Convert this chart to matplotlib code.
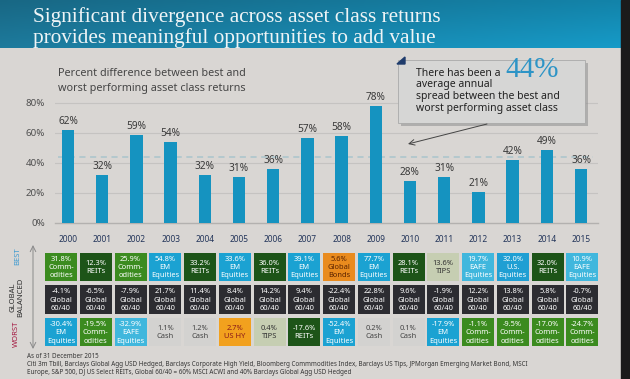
import numpy as np
import matplotlib
matplotlib.use("Agg")
import matplotlib.pyplot as plt
from matplotlib.patches import Rectangle, Polygon

# ---------------- data ----------------
years = [2000, 2001, 2002, 2003, 2004, 2005, 2006, 2007, 2008, 2009, 2010, 2011, 2012, 2013, 2014, 2015]
spread = [62, 32, 59, 54, 32, 31, 36, 57, 58, 78, 28, 31, 21, 42, 49, 36]
avg_spread = 44
y_ticks = [0, 20, 40, 60, 80]

best_ret = [31.8, 12.3, 25.9, 54.8, 33.2, 33.6, 36.0, 39.1, 5.6, 77.7, 28.1, 13.6, 19.7, 32.0, 32.0, 10.9]
best_cls = ["Commodities", "REITs", "Commodities", "EM Equities", "REITs", "EM Equities", "REITs",
            "EM Equities", "Global Bonds", "EM Equities", "REITs", "TIPS", "EAFE Equities",
            "U.S. Equities", "REITs", "EAFE Equities"]
bal_ret = [-4.1, -6.5, -7.9, 21.7, 11.4, 8.4, 14.2, 9.4, -22.4, 22.8, 9.6, -1.9, 12.2, 13.8, 5.8, -0.7]
bal_cls = ["Global 60/40"] * 16
worst_ret = [-30.4, -19.5, -32.9, 1.1, 1.2, 2.7, 0.4, -17.6, -52.4, 0.2, 0.1, -17.9, -1.1, -9.5, -17.0, -24.7]
worst_cls = ["EM Equities", "Commodities", "EAFE Equities", "Cash", "Cash", "US HY", "TIPS", "REITs",
             "EM Equities", "Cash", "Cash", "EM Equities", "Commodities", "Commodities", "Commodities",
             "Commodities"]

title_lines = ["Significant divergence across asset class returns",
               "provides meaningful opportunities to add value"]
subtitle_lines = ["Percent difference between best and", "worst performing asset class returns"]
foot_lines = ["As of 31 December 2015",
              "Citi 3m Tbill, Barclays Global Agg USD Hedged, Barclays Corporate High Yield, Bloomberg Commmodities Index, Barclays US Tips, JPMorgan Emerging Market Bond, MSCI",
              "Europe, S&P 500, DJ US Select REITs, Global 60/40 = 60% MSCI ACWI and 40% Barclays Global Agg USD Hedged"]

# ---------------- styles ----------------
cell_style = {
    "Commodities":   ("#3b8b1f", "white", "Comm-\nodities"),
    "REITs":         ("#1d5418", "white", "REITs"),
    "EM Equities":   ("#1ba2d2", "white", "EM\nEquities"),
    "EAFE Equities": ("#40b7dd", "white", "EAFE\nEquities"),
    "U.S. Equities": ("#1f9fd3", "white", "U.S.\nEquities"),
    "Global Bonds":  ("#e98b1e", "#5a2200", "Global\nBonds"),
    "US HY":         ("#f2a11e", "#8b1a1a", "US HY"),
    "TIPS":          ("#c6ceb2", "#333333", "TIPS"),
    "Cash":          ("#d3d2d0", "#444444", "Cash"),
    "Global 60/40":  ("#2c2c31", "white", "Global\n60/40"),
}

W, H = 630, 379
SANS = ["Noto Sans", "DejaVu Sans"]
SERIF = ["Liberation Serif", "DejaVu Serif"]
plt.rcParams["font.family"] = SANS


def fr(x0, y0, x1, y1):
    return [x0 / W, 1 - y1 / H, (x1 - x0) / W, (y1 - y0) / H]


fig = plt.figure(figsize=(6.3, 3.79), dpi=100)
fig.patch.set_facecolor("#d9d6d3")

# background layer
bg = fig.add_axes([0, 0, 1, 1], zorder=0)
bg.axis("off")
c1 = np.array([0x1d, 0x7a, 0x9c]) / 255
c2 = np.array([0x16, 0x9b, 0xc8]) / 255
t = np.linspace(0, 1, 256)[None, :, None]
v = np.linspace(0.85, 1.0, 20)[:, None, None]
grad = (c1 * (1 - t) + c2 * t) * v
bg.imshow(np.clip(grad, 0, 1), extent=(0, W, 48, 0), aspect="auto")
bg.add_patch(Rectangle((621, 0), 9, H, color="#1b1b1b"))
bg.set_xlim(0, W)
bg.set_ylim(H, 0)

# ---------------- bar chart ----------------
bx0, bstep = 68, 34.2
ax = fig.add_axes(fr(55, 95, 598, 223), zorder=2)
ax.patch.set_alpha(0)
ax.set_xlim((55 - bx0) / bstep, (598 - bx0) / bstep)
ax.set_ylim(0, (223 - 95) / 1.5)
for s in ax.spines.values():
    s.set_visible(False)
for yv in y_ticks[1:]:
    ax.axhline(yv, color="#c5c3c1", lw=0.8, zorder=1)
ax.axhline(0, color="#b3b1af", lw=1.0, zorder=1, clip_on=False)
xs = np.arange(len(years))
ax.bar(xs, spread, width=12.5 / bstep, color="#1593c0", zorder=3)
for i, val in zip(xs, spread):
    ax.text(i, val + 1.8, f"{val}%", ha="center", va="bottom", fontsize=7.3, color="#3a3a3a", zorder=4)
ax.plot([-0.3, 15.35], [avg_spread, avg_spread], ls=(0, (4, 3)), color="#a9c4cc", lw=1.1, zorder=2.5)
ax.set_yticks(y_ticks)
ax.set_yticklabels([f"{t}%" for t in y_ticks], fontsize=7, color="#505050")
ax.tick_params(axis="y", length=0, pad=7.2)
ax.set_xticks([])
for i, yr in zip(xs, years):
    ax.text(i, -(240 - 223) / 1.5, str(yr), ha="center", va="center", fontsize=6,
            fontweight="bold", color="#23355a", clip_on=False)

# ---------------- table ----------------
cx0, cstep = 61, 34.75
tb = fig.add_axes(fr(40, 250.5, 620, 348.5), zorder=2)
tb.axis("off")
tb.set_xlim((40 - cx0) / cstep, (620 - cx0) / cstep)
tb.set_ylim(2.5, -0.5)
for r, (rets, clss) in enumerate([(best_ret, best_cls), (bal_ret, bal_cls), (worst_ret, worst_cls)]):
    cols = [cell_style[c][0] for c in clss]
    tb.bar(xs, 0.86, bottom=r - 0.43, width=32 / cstep, color=cols)
    for i, (rv, c) in zip(xs, zip(rets, clss)):
        fc, tc, lab = cell_style[c]
        tb.text(i, r + 0.02, f"{rv:.1f}%\n{lab}", ha="center", va="center", fontsize=5.4,
                color=tc, linespacing=1.25)

# ---------------- overlay text / shapes ----------------
ov = fig.add_axes([0, 0, 1, 1], zorder=5)
ov.axis("off")
ov.patch.set_alpha(0)
ov.set_xlim(0, W)
ov.set_ylim(H, 0)

ov.text(33, 17, title_lines[0], fontsize=15.3, family=SERIF, color="#eef4f6", va="center")
ov.text(33, 38, title_lines[1], fontsize=15.3, family=SERIF, color="#eef4f6", va="center")
ov.text(58, 74, subtitle_lines[0], fontsize=7.8, color="#454545", va="center")
ov.text(58, 88, subtitle_lines[1], fontsize=7.8, color="#454545", va="center")

ov.add_patch(Rectangle((401, 63), 187, 63, color="#8e8e8e", alpha=0.55, lw=0))
ov.add_patch(Rectangle((398, 60), 187, 63, fc="#d6d6d5", ec="#a9a9a9", lw=0.6))
ov.add_patch(Polygon([(397, 64), (405, 57), (405, 64)], closed=True, color="#1f3c6c"))
ov.text(416, 73, "There has been a", fontsize=7.5, color="#222222", va="center")
ov.text(505, 70, f"{avg_spread}%", fontsize=21, family=SERIF, color="#2d94c6", va="center")
ov.text(416, 85, "average annual", fontsize=7.5, color="#222222", va="center")
ov.text(416, 97, "spread between the best and", fontsize=7.5, color="#222222", va="center")
ov.text(416, 109, "worst performing asset class", fontsize=7.5, color="#222222", va="center")
ov.annotate("", xy=(408, 144), xytext=(487, 124),
            arrowprops=dict(arrowstyle="->", color="#444444", lw=0.7, shrinkA=0, shrinkB=0))

ov.text(18, 256, "BEST", rotation=90, fontsize=5.5, fontweight="bold", color="#3d9ad1",
        ha="center", va="center")
ov.text(17, 297, "GLOBAL\nBALANCED", rotation=90, fontsize=5.5, fontweight="bold", color="#2d2d2d",
        ha="center", va="center", linespacing=1.2)
ov.text(16, 334, "WORST", rotation=90, fontsize=5.5, fontweight="bold", color="#a3173f",
        ha="center", va="center")
ov.annotate("", xy=(33, 245), xytext=(33, 349),
            arrowprops=dict(arrowstyle="<->", color="#8a8a8a", lw=0.7, shrinkA=0, shrinkB=0))

for k, (ln, yy) in enumerate(zip(foot_lines, [357, 365, 372])):
    ov.text(27, yy, ln, fontsize=4.5, color="#333333", va="center")

fig.savefig("out.png", dpi=100, facecolor=fig.get_facecolor())
